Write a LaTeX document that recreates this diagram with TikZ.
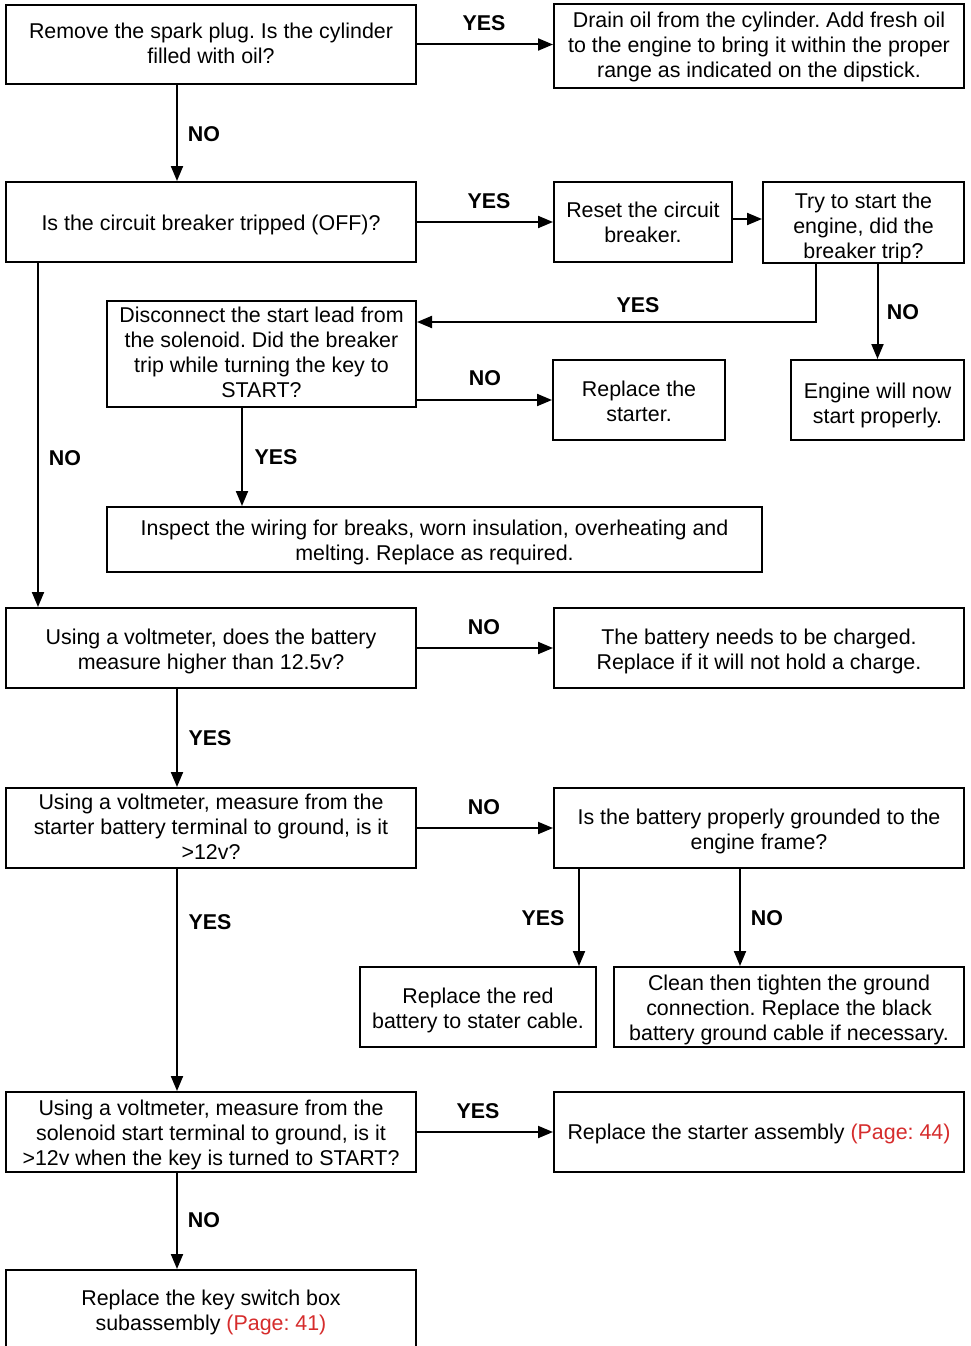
\documentclass[tikz,border=0pt]{standalone}
\usepackage{fontspec}
\setmainfont{Liberation Sans}
\usetikzlibrary{arrows.meta,calc}
\definecolor{pagered}{RGB}{214,44,44}
\frenchspacing
% \firstline{h}: height of the first text line, sets where the text sits in its box
\newcommand{\firstline}[1]{\rule{0pt}{#1pt}}
\newcommand{\lastline}{\rule[-4.5pt]{0pt}{4.5pt}}
\begin{document}
\begin{tikzpicture}[x=1pt,y=-1pt,
  box/.style={draw=black,line width=2pt,fill=white,align=center,inner sep=0pt,
    font=\fontsize{21.4}{25}\selectfont},
  lbl/.style={font=\fontsize{21.4}{25}\selectfont\bfseries,inner sep=0pt},
  arr/.style={line width=2pt,-{Triangle[length=15pt,width=12pt]}}]
\useasboundingbox (0,0) rectangle (970,1346);
\clip (0,0) rectangle (970,1346);

% boxes
\node[box,minimum width=410,minimum height=79] (A) at (211,44.5)
  {\firstline{17.6}Remove the spark plug. Is the cylinder\\filled with oil?\lastline};
\node[box,minimum width=410,minimum height=84] (B) at (759,46)
  {\firstline{17.6}Drain oil from the cylinder. Add fresh oil\\to the engine to bring it within the proper\\range as indicated on the dipstick.\lastline};
\node[box,minimum width=410,minimum height=80] (C) at (211,222)
  {\firstline{20.6}Is the circuit breaker tripped (OFF)?\lastline};
\node[box,minimum width=178,minimum height=80] (D) at (643,222)
  {\firstline{20.6}Reset the circuit\\breaker.\lastline};
\node[box,minimum width=201,minimum height=81] (E) at (863.5,222.5)
  {\firstline{25.6}Try to start the\\engine, did the\\breaker trip?\lastline};
\node[box,minimum width=309,minimum height=106] (F) at (261.5,354)
  {Disconnect the start lead from\\the solenoid. Did the breaker\\trip while turning the key to\\START?\lastline};
\node[box,minimum width=172,minimum height=80] (G) at (639,400)
  {\firstline{21.6}Replace the\\starter.\lastline};
\node[box,minimum width=173,minimum height=80] (H) at (877.5,400)
  {\firstline{25.6}Engine will now\\start properly.\lastline};
\node[box,minimum width=655,minimum height=65] (I) at (434.5,539.5)
  {\firstline{21}Inspect the wiring for breaks, worn insulation, overheating and\\melting. Replace as required.\lastline};
\node[box,minimum width=410,minimum height=80] (J) at (211,648)
  {\firstline{22.6}Using a voltmeter, does the battery\\measure higher than 12.5v?\lastline};
\node[box,minimum width=410,minimum height=80] (K) at (759,648)
  {\firstline{21.6}The battery needs to be charged.\\Replace if it will not hold a charge.\lastline};
\node[box,minimum width=410,minimum height=80] (L) at (211,828)
  {\firstline{17.6}Using a voltmeter, measure from the\\starter battery terminal to ground, is it\\>12v?\lastline};
\node[box,minimum width=410,minimum height=80] (M) at (759,828)
  {\firstline{21.6}Is the battery properly grounded to the\\engine frame?\lastline};
\node[box,minimum width=236,minimum height=80] (N) at (478,1007)
  {\firstline{21.6}Replace the red\\battery to stater cable.\lastline};
\node[box,minimum width=350,minimum height=80] (O) at (789,1007)
  {\firstline{21}Clean then tighten the ground\\connection. Replace the black\\battery ground cable if necessary.\lastline};
\node[box,minimum width=410,minimum height=80] (P) at (211,1132)
  {\firstline{21.6}Using a voltmeter, measure from the\\solenoid start terminal to ground, is it\\>12v when the key is turned to START?\lastline};
\node[box,minimum width=410,minimum height=80] (Q) at (759,1132)
  {\firstline{19.6}Replace the starter assembly \textcolor{pagered}{(Page: 44)}\lastline};
\node[box,minimum width=410,minimum height=80] (R) at (211,1310)
  {\firstline{21}Replace the key switch box\\subassembly \textcolor{pagered}{(Page: 41)}\lastline};

% vertical routing columns and bend point
\coordinate (x38) at (38,0);
\coordinate (x177) at (177,0);
\coordinate (x242) at (242,0);
\coordinate (x579) at (579,0);
\coordinate (x740) at (740,0);
\coordinate (bend) at (816,322);

% connectors
\draw[arr] (A.east) -- (A.east -| B.west);
\draw[arr] (A.south -| x177) -- (C.north -| x177);
\draw[arr] (C.east) -- (D.west);
\draw[arr] ([yshift=3pt]D.east) -- ([yshift=3pt]D.east -| E.west);
\draw[arr] (E.south -| bend) -- (bend) -- (bend -| F.east);
\draw[arr] (E.south -| H.north) -- (H.north);
\draw[arr] (F.east |- G.west) -- (G.west);
\draw[arr] (F.south -| x242) -- (I.north -| x242);
\draw[arr] (C.south -| x38) -- (J.north -| x38);
\draw[arr] (J.east) -- (K.west);
\draw[arr] (J.south -| x177) -- (L.north -| x177);
\draw[arr] (L.east) -- (M.west);
\draw[arr] (M.south -| x579) -- (N.north -| x579);
\draw[arr] (M.south -| x740) -- (O.north -| x740);
\draw[arr] (L.south -| x177) -- (P.north -| x177);
\draw[arr] (P.east) -- (Q.west);
\draw[arr] (P.south -| x177) -- (R.north -| x177);

% branch labels
\node[lbl] (l1) at (484,23) {YES};
\node[lbl] (l2) at (204,134) {NO};
\node[lbl] (l3) at (489,201) {YES};
\node[lbl] (l4) at (638,305) {YES};
\node[lbl] (l5) at (903,312) {NO};
\node[lbl] (l6) at (485,378) {NO};
\node[lbl] (l7) at (276,457) {YES};
\node[lbl] (l8) at (65,458) {NO};
\node[lbl] (l9) at (484,627) {NO};
\node[lbl] (l10) at (210,738) {YES};
\node[lbl] (l11) at (484,807) {NO};
\node[lbl] (l12) at (543,918) {YES};
\node[lbl] (l13) at (767,918) {NO};
\node[lbl] (l14) at (210,922) {YES};
\node[lbl] (l15) at (478,1111) {YES};
\node[lbl] (l16) at (204,1220) {NO};
\end{tikzpicture}
\end{document}
